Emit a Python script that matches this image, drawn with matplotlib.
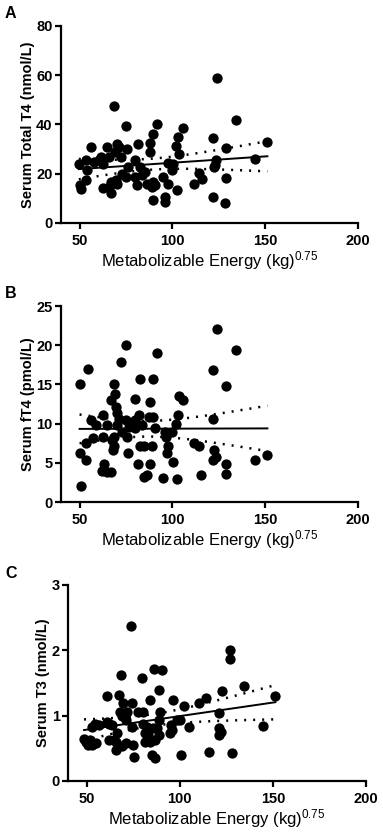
import numpy as np
import matplotlib
matplotlib.use("Agg")
import matplotlib.pyplot as plt

plt.rcParams['font.family'] = ['Liberation Sans', 'DejaVu Sans']
plt.rcParams['mathtext.default'] = 'regular'

# panel A: serum total T4 (nmol/L)
x_t4 = [49.6, 50.5, 50.9, 53.2, 54.1, 53.5, 56.2, 58.0, 60.6, 61.5, 62.4, 62.4, 64.7, 66.0,
        66.0, 66.8, 67.2, 68.6, 69.1, 70.0, 71.2, 69.5, 70.4, 72.1, 73.0, 74.8, 75.3, 74.8,
        76.2, 80.1, 81.3, 81.0, 80.1, 82.6, 83.5, 85.4, 86.3, 87.7, 88.0, 88.9, 89.8, 89.8,
        90.7, 89.8, 91.8, 95.1, 96.2, 96.2, 97.4, 97.8, 99.6, 100.1, 101.9, 102.8, 102.3,
        103.5, 105.8, 111.4, 114.1, 115.8, 121.7, 121.7, 122.2, 123.5, 123.0, 124.3, 128.7,
        128.7, 128.4, 134.4, 144.7, 151.2]
y_t4 = [24.1, 15.3, 13.9, 25.7, 21.7, 17.3, 30.9, 24.8, 25.4, 26.8, 24.1, 14.3, 30.9, 26.8,
        14.6, 12.2, 16.6, 47.4, 28.8, 32.2, 30.9, 17.3, 16.0, 26.8, 20.0, 39.5, 30.2, 18.7,
        22.7, 25.4, 32.2, 15.3, 18.7, 22.7, 19.4, 20.7, 16.0, 32.5, 28.8, 14.6, 36.3, 16.6,
        15.3, 9.5, 40.3, 18.7, 10.6, 8.5, 24.4, 15.7, 21.4, 24.1, 31.3, 34.9, 13.5,
        28.1, 38.6, 16.0, 20.3, 17.7, 10.6, 34.5, 22.7, 25.4, 23.4, 58.9, 30.4,
        18.4, 8.3, 41.7, 26.1, 32.9]

# panel B: serum fT4 (pmol/L)
x_ft4 = [50.5, 50.9, 50.0, 54.4, 53.5, 53.5, 56.2, 57.1, 58.8, 62.4, 62.4, 62.9, 62.0, 64.7,
         66.8, 65.0, 66.8, 68.6, 69.1, 69.5, 68.6, 67.7, 68.6, 68.1, 70.4, 70.4, 71.2, 73.0,
         72.5, 74.8, 74.8, 75.3, 76.0, 76.5, 80.1, 80.1, 80.1, 81.3, 81.9, 82.7, 82.7, 84.5,
         83.6, 84.5, 86.3, 87.2, 87.7, 87.7, 88.9, 89.8, 89.8, 90.7, 91.8, 94.7, 95.9, 96.5,
         96.9, 97.8, 99.6, 100.1, 101.9, 102.8, 102.3, 103.5, 105.8, 111.4, 114.2, 115.4,
         121.7, 121.7, 121.7, 122.6, 123.5, 124.3, 128.7, 128.7, 128.7, 134.4, 144.7, 151.2]
y_ft4 = [15.0, 2.1, 6.3, 17.0, 7.5, 5.3, 10.4, 8.1, 9.8, 11.1, 8.3, 4.9, 4.0, 3.8,
         3.8, 9.8, 13.0, 15.1, 13.8, 12.1, 8.3, 7.9, 7.2, 6.6, 11.3, 9.8, 10.6, 8.9,
         17.9, 20.0, 10.5, 8.3, 6.2, 9.6, 13.2, 10.4, 9.4, 4.9, 11.1, 15.7, 7.2, 7.2,
         9.8, 3.2, 3.4, 10.8, 12.8, 4.9, 7.2, 10.8, 15.7, 9.4, 19.0, 3.0, 8.9, 8.3,
         6.2, 7.2, 8.9, 5.1, 10.0, 11.1, 2.9, 13.5, 13.0, 7.5, 7.1, 3.5,
         16.9, 10.6, 5.3, 6.6, 5.7, 22.1, 14.8, 4.9, 3.6, 19.4, 5.3, 6.0]

# panel C: serum T3 (nmol/L)
x_t3 = [48.6, 49.8, 50.9, 51.6, 53.1, 54.9, 52.7, 54.5, 56.7, 61.2, 61.2, 62.1, 62.1, 63.5,
        64.7, 65.6, 66.0, 66.5, 67.4, 67.7, 68.3, 68.8, 69.5, 69.2, 71.0, 71.4, 73.7, 74.2,
        74.2, 74.9, 75.6, 71.6, 77.8, 79.6, 80.0, 80.5, 81.1, 81.1, 82.3, 83.2, 84.1, 84.1,
        85.3, 85.9, 86.4, 86.8, 86.8, 87.7, 88.6, 89.0, 89.5, 90.4, 88.6, 94.9, 95.5, 96.2,
        95.9, 98.6, 100.4, 100.9, 102.2, 104.9, 110.3, 113.9, 115.7, 121.1, 121.1, 121.1,
        122.0, 122.9, 126.9, 126.9, 128.3, 134.5, 144.9, 151.3]
y_t3 = [0.65, 0.60, 0.55, 0.63, 0.55, 0.58, 0.83, 0.88, 0.86, 1.30, 0.90, 0.88, 0.63, 0.85,
        0.63, 0.60, 0.47, 0.73, 1.32, 1.06, 1.62, 0.99, 1.19, 0.53, 0.94, 0.58, 2.38, 1.19,
        0.83, 0.55, 0.37, 1.06, 1.06, 1.57, 1.06, 0.88, 0.73, 0.60, 0.83, 0.70, 1.24, 0.60,
        0.40, 0.81, 1.72, 0.63, 0.35, 0.81, 0.93, 1.39, 1.05, 1.70, 0.70, 0.73, 0.86, 1.24,
        0.78, 0.93, 0.93, 0.40, 1.15, 0.83, 1.19, 1.27, 0.45, 1.04, 0.81, 0.70,
        0.75, 1.37, 2.00, 1.86, 0.43, 1.45, 0.84, 1.30]

panels = [
    ("A", x_t4, y_t4, "Serum Total T4 (nmol/L)", 80, 20, [61, 26, 358, 223]),
    ("B", x_ft4, y_ft4, "Serum fT4 (pmol/L)", 25, 5, [61, 306, 358, 502]),
    ("C", x_t3, y_t3, "Serum T3 (nmol/L)", 3, 1, [68, 585, 366, 781]),
]

W, H = 383, 840
fig = plt.figure(figsize=(W / 100, H / 100), dpi=100)

for letter, xs, ys, ylab, ymax, ystep, box in panels:
    l, t, r, b = box
    ax = fig.add_axes([l / W, 1 - b / H, (r - l) / W, (b - t) / H])
    xs = np.array(xs)
    ys = np.array(ys)
    ax.scatter(xs, ys, s=55, color="black", zorder=3, linewidths=0)

    # linear fit with 95% confidence band
    n = len(xs)
    slope, icpt = np.polyfit(xs, ys, 1)
    resid = ys - (slope * xs + icpt)
    s = np.sqrt(np.sum(resid**2) / (n - 2))
    sxx = np.sum((xs - xs.mean())**2)
    xx = np.linspace(xs.min(), xs.max(), 100)
    yy = slope * xx + icpt
    half = 1.99 * s * np.sqrt(1 / n + (xx - xs.mean())**2 / sxx)
    ax.plot(xx, yy, color="black", lw=1.4, zorder=4)
    ax.plot(xx, yy + half, color="black", lw=1.8, ls=(0, (0.8, 2.8)), zorder=4)
    ax.plot(xx, yy - half, color="black", lw=1.8, ls=(0, (0.8, 2.8)), zorder=4)

    ax.set_xlim(40, 200)
    ax.set_ylim(0, ymax)
    ax.set_xticks([50, 100, 150, 200])
    ax.set_yticks(np.arange(0, ymax + ystep / 2, ystep))
    ax.yaxis.set_major_formatter(matplotlib.ticker.FormatStrFormatter("%g"))
    for sp in ["top", "right"]:
        ax.spines[sp].set_visible(False)
    for sp in ["left", "bottom"]:
        ax.spines[sp].set_linewidth(1.6)
    ax.tick_params(direction="out", length=4, width=1.6, labelsize=10.5, pad=2)
    ax.tick_params(axis="x", pad=4)
    for lab in ax.get_xticklabels() + ax.get_yticklabels():
        lab.set_fontweight("bold")
    ax.set_ylabel(ylab, fontsize=10.5, fontweight="bold", labelpad=1)
    ax.set_xlabel("Metabolizable Energy (kg)$^{0.75}$", fontsize=12, labelpad=1)
    fig.text(5 / W, 1 - 14 / H if letter == "A" else 1 - (t - 12) / H, letter,
             fontsize=11.5, fontweight="bold", va="center", ha="left")

fig.savefig("out.png", dpi=100)
